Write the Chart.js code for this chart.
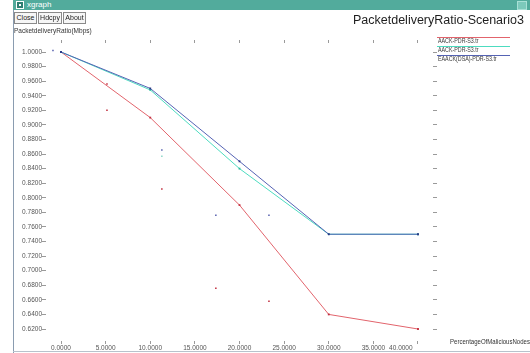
<!DOCTYPE html>
<html><head><meta charset="utf-8">
<script src="https://cdn.jsdelivr.net/npm/chart.js@4/dist/chart.umd.min.js"></script>
<style>
html,body{margin:0;padding:0;background:#fff;width:530px;height:353px;overflow:hidden;font-family:"Liberation Sans",Arial,sans-serif;}
#cv{position:absolute;left:0;top:0;}
#bar{position:absolute;left:13px;top:0;width:517px;height:10px;background:#52ab9c;}
#bar .ico{position:absolute;left:3px;top:1px;width:6px;height:6px;border:1px solid #fff;background:#2f7f72;}
#bar .ico i{position:absolute;left:2px;top:2px;width:2px;height:2px;background:#fff;}
#bar .txt{position:absolute;left:14px;top:0;font-size:8px;line-height:10px;color:#fff;}
#bar .rb{position:absolute;right:3px;top:1px;width:8px;height:7px;background:#7cc9bb;border:1px solid #a8e0d6;}
#frameL{position:absolute;left:13px;top:10px;width:1px;height:343px;background:#8a9cb0;}
#frameB{position:absolute;left:13px;top:351px;width:517px;height:1px;background:#b8c2cc;}
.btn{position:absolute;top:12px;height:10px;border:1px solid #8a8a8a;background:#f6f6f6;font-size:7px;line-height:10px;color:#222;text-align:center;}
#title{position:absolute;left:353px;top:13px;font-size:12.5px;line-height:14px;color:#1e1e1e;white-space:nowrap;}
#ylab{position:absolute;left:14px;top:27px;font-size:6.5px;line-height:8px;color:#333;white-space:nowrap;}
#xlab{position:absolute;left:450px;top:338px;font-size:6.5px;line-height:8px;color:#333;white-space:nowrap;transform:scaleX(0.93);transform-origin:0 0;}
</style></head>
<body>
<canvas id="cv" width="530" height="353"></canvas>
<div id="bar"><div class="ico"><i></i></div><div class="txt">xgraph</div><div class="rb"></div></div>
<div id="frameL"></div><div id="frameB"></div>
<div class="btn" style="left:14px;width:21px;">Close</div>
<div class="btn" style="left:38px;width:22px;">Hdcpy</div>
<div class="btn" style="left:63px;width:21px;">About</div>
<div id="title">PacketdeliveryRatio-Scenario3</div>
<div id="ylab">PacketdeliveryRatio(Mbps)</div>
<div id="xlab">PercentageOfMaliciousNodes</div>
<script>
// ---- data ----
const maliciousPct = [0, 10, 20, 30, 40];
const seriesNames = ['AACK-PDR-S3.tr', 'AACK-PDR-S3.tr', 'EAACK(DSA)-PDR-S3.tr'];
const pdrAackA = [1.0, 0.910, 0.790, 0.640, 0.620];
const pdrAackB = [1.0, 0.948, 0.840, 0.750, 0.750];
const pdrEaack = [1.0, 0.950, 0.850, 0.750, 0.750];
const xTickValues = [0, 5, 10, 15, 20, 25, 30, 35, 40];
const yTickValues = [0.62, 0.64, 0.66, 0.68, 0.70, 0.72, 0.74, 0.76, 0.78, 0.80, 0.82, 0.84, 0.86, 0.88, 0.90, 0.92, 0.94, 0.96, 0.98, 1.00];
// stray markers visible in the plot
const strayRedX = [5.15, 5.15, 11.3, 17.35, 23.3];
const strayRedY = [0.956, 0.920, 0.812, 0.676, 0.658];
const strayGreenX = [11.3];
const strayGreenY = [0.857];
const strayBlueX = [-0.9, 11.3, 17.35, 23.3];
const strayBlueY = [1.002, 0.8656, 0.776, 0.776];

const pts = (xs, ys) => xs.map((x, i) => ({x: x, y: ys[i]}));
const lineColors = ['#e2646c', '#4ddcc0', '#5563b4'];
const pointColors = ['#c23040', '#2cb89c', '#2a3486'];

const datasets = [
  {label: seriesNames[0], data: pts(maliciousPct, pdrAackA), borderColor: lineColors[0], backgroundColor: pointColors[0], order: 3},
  {label: seriesNames[1], data: pts(maliciousPct, pdrAackB), borderColor: lineColors[1], backgroundColor: pointColors[1], order: 2},
  {label: seriesNames[2], data: pts(maliciousPct, pdrEaack), borderColor: lineColors[2], backgroundColor: pointColors[2], order: 1},
].map(d => Object.assign(d, {borderWidth: 1, pointRadius: 1.3, pointStyle: 'rect', pointBorderWidth: 0, pointBackgroundColor: d.backgroundColor, tension: 0, fill: false, legend: true}));

[[strayRedX, strayRedY, pointColors[0]], [strayGreenX, strayGreenY, '#8fd8c8'], [strayBlueX, strayBlueY, '#5a64b0']].forEach(([xs, ys, c]) => {
  datasets.push({label: '', data: pts(xs, ys), showLine: false, pointRadius: 1.1, pointStyle: 'rect', pointBorderWidth: 0, pointBackgroundColor: c, borderColor: c, legend: false, order: 4});
});

const tickFont = {family: '"Liberation Sans", Arial, sans-serif', size: 6.5};
const tickGrid = {drawOnChartArea: false, drawTicks: true, tickLength: 4, color: '#9a9a9a', lineWidth: 1};

const legendPlugin = {
  id: 'xgLegend',
  afterDraw(chart) {
    const ctx = chart.ctx;
    let i = 0;
    chart.data.datasets.forEach(ds => {
      if (!ds.legend) return;
      const y = 37.5 + i * 9;
      ctx.save();
      ctx.strokeStyle = ds.borderColor;
      ctx.lineWidth = 1;
      ctx.beginPath(); ctx.moveTo(437, y); ctx.lineTo(510, y); ctx.stroke();
      ctx.fillStyle = '#3a3a3a';
      ctx.font = '6.5px "Liberation Sans", Arial, sans-serif';
      ctx.textBaseline = 'middle';
      ctx.textAlign = 'left';
      ctx.translate(438, y + 4);
      ctx.scale(0.82, 1);
      ctx.fillText(ds.label, 0, 0);
      ctx.restore();
      i++;
    });
  }
};

new Chart(document.getElementById('cv'), {
  type: 'line',
  data: {datasets: datasets},
  options: {
    responsive: false,
    animation: false,
    devicePixelRatio: 1,
    layout: {padding: 0},
    plugins: {legend: {display: false}, tooltip: {enabled: false}, title: {display: false}},
    scales: {
      x: {
        type: 'linear', position: 'bottom', min: -1.681, max: 41.681,
        afterBuildTicks: s => { s.ticks = xTickValues.map(v => ({value: v})); },
        afterFit: s => { s.height = 12; },
        ticks: {font: tickFont, color: '#555', padding: 0, maxRotation: 0, autoSkip: false,
          callback: (v, i, arr) => Number(v).toFixed(4) + (i === arr.length - 1 ? ' '.repeat(19) : '')},
        grid: Object.assign({}, tickGrid, {tickLength: 3}),
        border: {display: false}
      },
      xTop: {
        type: 'linear', position: 'top', min: -1.681, max: 41.681,
        afterBuildTicks: s => { s.ticks = xTickValues.map(v => ({value: v})); },
        afterFit: s => { s.height = 43; },
        ticks: {display: false},
        grid: Object.assign({}, tickGrid, {tickLength: 3}),
        border: {display: false}
      },
      y: {
        type: 'linear', position: 'left', min: 0.60354, max: 1.01235,
        afterBuildTicks: s => { s.ticks = yTickValues.map(v => ({value: v})); },
        afterFit: s => { s.width = 46; },
        ticks: {font: tickFont, color: '#555', padding: 0, autoSkip: false, callback: v => Number(v).toFixed(4)},
        grid: tickGrid,
        border: {display: false}
      },
      yRight: {
        type: 'linear', position: 'right', min: 0.60354, max: 1.01235,
        afterBuildTicks: s => { s.ticks = yTickValues.map(v => ({value: v})); },
        afterFit: s => { s.width = 97; },
        ticks: {display: false},
        grid: tickGrid,
        border: {display: false}
      }
    }
  },
  plugins: [legendPlugin]
});
</script>
</body></html>
